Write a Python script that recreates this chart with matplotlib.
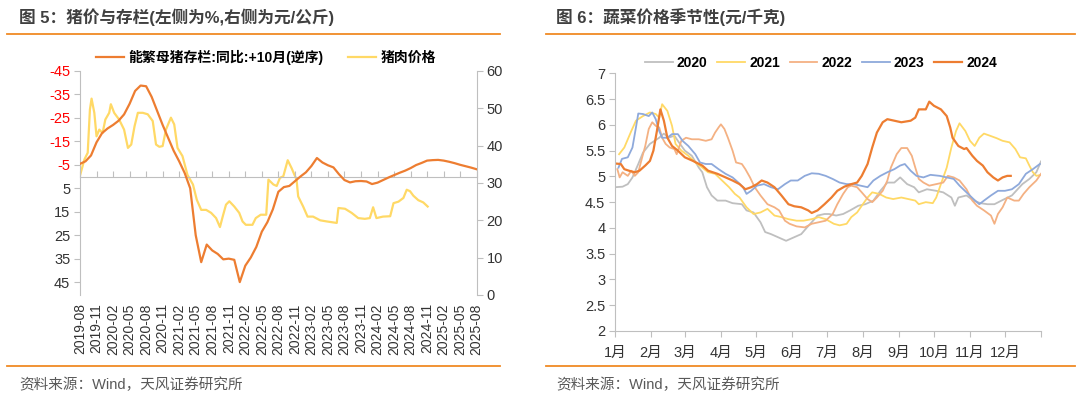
import matplotlib
matplotlib.use('Agg')
import matplotlib.pyplot as plt
from matplotlib.lines import Line2D

plt.rcParams['font.family'] = ['Liberation Sans', 'Noto Sans CJK SC']
plt.rcParams['axes.unicode_minus'] = False

# ---------------- 图5 数据 ----------------
# 能繁母猪存栏同比(+10月, 逆序), 月度, 自 2019-08 起
sow_yoy = [-5.4, -6.5, -9, -14.6, -18.5, -20.5, -22, -23.8, -26.5, -31,
           -36.5, -38.8, -38.5, -34, -28, -22, -16.5, -11, -6.5, -1.5,
           5, 25, 36.5, 29, 31.5, 33, 35.3, 35, 35.5, 45,
           38, 34.5, 30, 23.5, 19.5, 14, 6.5, 4.5, 4, 2,
           0, -1.8, -4.5, -7.9, -6, -4.8, -3.9, -1, 1.5, 2.5,
           2, 1.9, 2.1, 3.2, 2.6, 1.5, 0.4, -0.6, -1.6, -2.5,
           -3.6, -4.9, -5.8, -6.8, -7, -7.1, -6.8, -6.3, -5.7, -5.0,
           -4.4, -3.8, -3.1]
sow_t = list(range(len(sow_yoy)))

# 猪肉价格 (元/公斤), 时间为自 2019-08 起的月数
pork_t = [0, 0.8, 1.4, 1.8, 2.1, 2.6, 3.0, 3.5, 4.1, 4.6,
          5.3, 5.6, 6.2, 7.1, 8.0, 8.7, 9.3, 9.9, 10.5, 11.4,
          12.3, 13.2, 13.8, 14.4, 15.0, 15.6, 16.5, 17.1, 17.7, 18.6,
          19.5, 20.5, 21.2, 22.0, 22.9, 23.8, 24.7, 25.4, 25.9, 26.5,
          27.1, 28.0, 28.9, 29.5, 30.1, 31.3, 31.9, 32.8, 33.8, 34.2,
          35.1, 35.7, 36.3, 36.9, 37.7, 38.4, 39.3, 39.6, 40.5, 41.3,
          42.3, 43.6, 44.8, 46.6, 46.9, 48.1, 49.3, 50.5, 51.7, 52.6,
          53.2, 53.8, 55.0, 56.3, 56.9, 57.8, 58.7, 59.3, 59.9, 60.5,
          61.4, 62.3, 63.1]
pork_price = [32, 36.3, 38.1, 49.7, 52.6, 48.8, 42.5, 44.3, 43.4, 47,
              48.8, 51.1, 48.8, 47, 44.3, 39.4, 40.3, 45.2, 48.8, 48.8,
              48.4, 46.6, 40.3, 39.7, 39.9, 44.3, 47.5, 45.7, 39.4, 37.2,
              32.2, 29.6, 25.5, 22.8, 22.8, 22, 20.6, 18.2, 21, 24.2,
              25.1, 23.7, 22, 19.7, 18.8, 18.8, 20.6, 21.5, 21.5, 30.9,
              29.6, 29.2, 31.4, 31.8, 36.1, 34, 30.9, 26.4, 23.7, 21,
              21, 20, 19.7, 19.3, 23.3, 23.1, 22, 20.6, 20.4, 20.6,
              23.5, 20.6, 21, 21.1, 24.6, 25, 26, 28.2, 27.8, 26.6,
              25.4, 24.8, 23.7]

date_labels = ['2019-08', '2019-11', '2020-02', '2020-05', '2020-08', '2020-11',
               '2021-02', '2021-05', '2021-08', '2021-11', '2022-02', '2022-05',
               '2022-08', '2022-11', '2023-02', '2023-05', '2023-08', '2023-11',
               '2024-02', '2024-05', '2024-08', '2024-11', '2025-02', '2025-05',
               '2025-08']

# ---------------- 图6 数据 (日序, 元/千克) ----------------
d2020 = [0, 6.5, 11, 15, 20, 24, 30, 38, 42, 46, 51, 54, 60, 66, 72, 75, 79, 83, 88, 95,
         101, 109, 113, 119, 125, 129, 134, 140, 147, 154, 160, 165, 169, 174, 180, 184,
         190, 196, 202, 209, 215, 222, 228, 234, 240, 245, 251, 257, 261, 268, 276, 282,
         289, 292, 295, 302, 308, 314, 320, 326, 332, 341, 350, 356, 362, 366]
v2020 = [4.79, 4.8, 4.85, 4.98, 5.24, 5.46, 5.63, 5.75, 5.83, 5.75, 5.79, 5.69, 5.5, 5.4,
         5.17, 5.08, 4.79, 4.63, 4.53, 4.53, 4.48, 4.46, 4.34, 4.3, 4.11, 3.92, 3.88, 3.82,
         3.75, 3.82, 3.88, 4.01, 4.11, 4.24, 4.27, 4.27, 4.24, 4.27, 4.34, 4.43, 4.46, 4.53,
         4.72, 4.88, 4.88, 4.98, 4.85, 4.79, 4.69, 4.75, 4.72, 4.69, 4.59, 4.43, 4.59, 4.63,
         4.53, 4.48, 4.46, 4.46, 4.53, 4.63, 4.85, 4.95, 5.08, 5.29]

d2021 = [3.5, 8, 14, 18, 24, 30, 35, 38, 40.5, 45, 49, 52, 57, 63, 69, 75, 80, 86, 92, 98,
         103, 107, 113, 119, 125, 131, 137, 143, 149, 156, 162, 169, 175, 181, 188, 193,
         199, 203, 208, 212, 217, 221, 227, 233, 239, 246, 252, 258, 261, 267, 273, 276,
         280, 285, 289, 293, 296, 301, 305, 309, 313, 317, 322, 328, 333, 339, 344, 348,
         353, 356, 359, 362, 366]
v2021 = [5.43, 5.56, 5.88, 6.08, 6.17, 6.24, 6.21, 6.14, 6.4, 6.27, 5.98, 5.63, 5.5, 5.4,
         5.27, 5.17, 5.08, 5.05, 4.92, 4.79, 4.66, 4.59, 4.4, 4.27, 4.3, 4.37, 4.24, 4.21,
         4.17, 4.14, 4.14, 4.17, 4.21, 4.17, 4.08, 4.05, 4.08, 4.21, 4.3, 4.43, 4.59, 4.69,
         4.66, 4.59, 4.56, 4.59, 4.56, 4.53, 4.46, 4.5, 4.48, 4.59, 4.85, 5.17, 5.56, 5.88,
         6.03, 5.88, 5.69, 5.59, 5.75, 5.83, 5.79, 5.74, 5.69, 5.66, 5.53, 5.37, 5.35, 5.21,
         5.08, 5.01, 5.03]

d2022 = [2, 4, 6.5, 11, 14, 17, 20, 23, 26, 29, 32, 35, 38, 40.5, 43.5, 47, 51, 53, 57, 61,
         66, 72, 78, 83, 86, 89, 91, 94, 97, 101, 104, 109, 112, 116, 120, 125, 131, 137,
         141, 146, 150, 156, 163, 169, 175, 181, 187, 191, 196, 200, 203, 208, 212, 217,
         221, 225, 230, 234, 237, 242, 246, 251, 255, 258, 261, 265, 270, 276, 282, 286,
         291, 296, 302, 307, 311, 317, 323, 326, 329, 333, 337, 343, 347, 351, 356, 362, 366]
v2022 = [5.14, 4.98, 5.08, 5.01, 5.11, 5.01, 5.08, 5.34, 5.59, 5.92, 6.05, 5.98, 5.95, 5.75,
         5.63, 5.56, 5.53, 5.43, 5.69, 5.75, 5.72, 5.72, 5.69, 5.72, 5.85, 5.95, 6.01, 5.92,
         5.75, 5.5, 5.27, 5.24, 5.14, 4.98, 4.79, 4.63, 4.46, 4.4, 4.34, 4.14, 4.08, 4.03,
         4.01, 4.08, 4.11, 4.14, 4.27, 4.46, 4.66, 4.79, 4.82, 4.79, 4.69, 4.56, 4.5, 4.59,
         4.72, 4.92, 5.17, 5.43, 5.55, 5.55, 5.4, 5.17, 4.95, 4.88, 4.82, 4.85, 4.88, 5.01,
         4.98, 4.92, 4.75, 4.53, 4.43, 4.34, 4.24, 4.08, 4.27, 4.4, 4.59, 4.53, 4.53, 4.66,
         4.79, 4.92, 5.05]

d2023 = [3, 6, 11, 15, 18, 20, 24, 29, 32, 35, 38, 40.5, 45, 49, 54, 58, 63, 69, 73, 78,
         83, 89, 95, 101, 106, 110, 113, 117, 122, 128, 134, 140, 146, 151, 157, 163, 169,
         175, 181, 187, 193, 199, 205, 211, 217, 222, 228, 234, 240, 245, 249, 254, 259,
         265, 271, 279, 285, 291, 296, 302, 308, 313, 317, 323, 329, 335, 341, 347, 353,
         359, 365]
v2023 = [5.17, 5.34, 5.37, 5.56, 5.95, 6.22, 6.21, 6.17, 6.24, 6.11, 5.88, 5.75, 5.75, 5.82,
         5.82, 5.69, 5.59, 5.43, 5.27, 5.24, 5.24, 5.14, 5.05, 4.98, 4.88, 4.79, 4.66, 4.72,
         4.82, 4.85, 4.79, 4.75, 4.85, 4.92, 4.92, 5.01, 5.06, 5.05, 5.01, 4.95, 4.88, 4.85,
         4.85, 4.82, 4.79, 4.92, 5.01, 5.08, 5.14, 5.21, 5.24, 5.11, 5.01, 4.98, 5.03, 5.01,
         4.98, 4.95, 4.82, 4.69, 4.56, 4.46, 4.53, 4.63, 4.72, 4.72, 4.75, 4.85, 5.05, 5.14,
         5.24]

d2024 = [0, 5, 8, 12, 17, 21, 26, 30, 33, 36, 39, 42, 45, 49, 54, 60, 67, 75, 80, 88, 95,
         101, 107, 112, 117, 122, 126, 131, 137, 143, 149, 154, 160, 166, 169, 174, 180,
         186, 191, 197, 203, 208, 212, 217, 221, 225, 230, 234, 240, 246, 254, 258, 261,
         267, 270, 274, 280, 285, 288, 290, 295, 300, 302, 307, 311, 316, 320, 325, 329,
         333, 337, 340]
v2024 = [5.25, 5.24, 5.14, 5.11, 5.08, 5.11, 5.21, 5.3, 5.5, 5.88, 6.3, 6.08, 5.75, 5.59,
         5.5, 5.37, 5.3, 5.21, 5.11, 5.05, 4.98, 4.92, 4.85, 4.75, 4.79, 4.85, 4.92, 4.88,
         4.79, 4.63, 4.46, 4.42, 4.4, 4.34, 4.29, 4.34, 4.46, 4.59, 4.72, 4.8, 4.85, 4.88,
         5.01, 5.24, 5.56, 5.85, 6.05, 6.11, 6.08, 6.05, 6.08, 6.14, 6.3, 6.3, 6.45, 6.37,
         6.3, 6.17, 5.95, 5.75, 5.59, 5.53, 5.55, 5.4, 5.3, 5.21, 5.08, 4.98, 4.92, 4.98,
         5.01, 5.01]

month_starts = [0, 31, 60, 91, 121, 152, 182, 213, 244, 274, 305, 335, 366]
month_labels = ['1月', '2月', '3月', '4月', '5月', '6月', '7月', '8月', '9月',
                '10月', '11月', '12月', '']

W, H = 1080, 399
GRID = '#BFBFBF'
TXT = '#333333'
RULE = '#F08A24'


def box(x0, y0, x1, y1):
    # 像素框 -> figure 坐标
    return [x0 / W, 1 - y1 / H, (x1 - x0) / W, (y1 - y0) / H]


def hline(x0, x1, y):
    fig.add_artist(Line2D([x0 / W, x1 / W], [1 - y / H, 1 - y / H], color=RULE, lw=1.3))


fig = plt.figure(figsize=(W / 100, H / 100), dpi=100)

# ---------------- 图5 ----------------
ax1 = fig.add_axes(box(80, 71, 476.7, 295))
l1, = ax1.plot(sow_t, sow_yoy, color='#ED7D31', lw=1.6, zorder=3)
ax1.set_xlim(0, 72)
ax1.set_ylim(50.5, -45)
ax1.set_yticks(range(-45, 46, 10))
for lab, v in zip(ax1.get_yticklabels(), range(-45, 46, 10)):
    lab.set_color('#FF0000' if v < 0 else TXT)
ax1.set_xticks(range(0, 73, 3))
ax1.spines['bottom'].set_position(('data', 0))
for s in ['top', 'right']:
    ax1.spines[s].set_visible(False)
for s in ['bottom', 'left']:
    ax1.spines[s].set_color(GRID)
ax1.tick_params(axis='x', direction='in', length=4, color=GRID, labelbottom=False)
ax1.tick_params(axis='y', direction='out', length=4, color=GRID, labelsize=10.5, pad=3)

sec = ax1.secondary_xaxis('bottom')
sec.set_xticks(range(0, 73, 3))
sec.set_xticklabels(date_labels, rotation=90, fontsize=10, color=TXT)
sec.tick_params(length=0, pad=6)
sec.spines['bottom'].set_visible(False)

ax2 = ax1.twinx()
l2, = ax2.plot(pork_t, pork_price, color='#FFD966', lw=1.6, zorder=2)
ax2.set_ylim(0, 60)
ax2.set_yticks(range(0, 61, 10))
for s in ['top', 'left', 'bottom']:
    ax2.spines[s].set_visible(False)
ax2.spines['right'].set_color(GRID)
ax2.tick_params(axis='y', direction='out', length=4, color=GRID, labelsize=10.5,
                labelcolor=TXT, pad=3)
ax1.set_zorder(ax2.get_zorder() + 1)
ax1.patch.set_visible(False)

fig.legend([l1, l2], ['能繁母猪存栏:同比:+10月(逆序)', '猪肉价格'], loc='center',
           bbox_to_anchor=(266 / W, 1 - 57 / H), ncol=2, frameon=False,
           prop={'weight': 'bold', 'size': 10}, handlelength=2.0,
           handletextpad=0.3, columnspacing=1.8)

fig.text(19 / W, 1 - 17 / H, '图 5：猪价与存栏(左侧为%,右侧为元/公斤)', fontsize=12,
         fontweight='bold', color='#404040', va='center')
fig.text(19 / W, 1 - 385 / H, '资料来源：Wind，天风证券研究所', fontsize=10.5,
         color='#595959', va='center')
hline(7, 500, 34)
hline(7, 500, 366)

# ---------------- 图6 ----------------
ax3 = fig.add_axes(box(615, 73.3, 1041, 331))
series = [(d2020, v2020, '2020', '#BFBFBF', 1.3),
          (d2021, v2021, '2021', '#FFD966', 1.3),
          (d2022, v2022, '2022', '#F4B183', 1.3),
          (d2023, v2023, '2023', '#8EA9DB', 1.3),
          (d2024, v2024, '2024', '#ED7D31', 1.6)]
for d, v, name, c, lw in series:
    ax3.plot(d, v, color=c, lw=lw, label=name)
ax3.set_xlim(0, 366)
ax3.set_ylim(2, 7)
ax3.set_yticks([2 + 0.5 * i for i in range(11)])
ax3.set_yticklabels(['%g' % (2 + 0.5 * i) for i in range(11)])
ax3.set_xticks(month_starts)
ax3.set_xticklabels(month_labels)
for s in ['top', 'right']:
    ax3.spines[s].set_visible(False)
for s in ['bottom', 'left']:
    ax3.spines[s].set_color(GRID)
ax3.tick_params(direction='out', length=4, color=GRID, labelsize=10.5, labelcolor=TXT)
ax3.tick_params(axis='x', pad=7)
ax3.tick_params(axis='y', pad=3)

ax3.legend(loc='center', bbox_to_anchor=(821 / W, 1 - 63 / H),
           bbox_transform=fig.transFigure, ncol=5, frameon=False,
           prop={'weight': 'bold', 'size': 10}, handlelength=2.0,
           handletextpad=0.3, columnspacing=0.7)

fig.text(556 / W, 1 - 17 / H, '图 6：蔬菜价格季节性(元/千克)', fontsize=12,
         fontweight='bold', color='#404040', va='center')
fig.text(556 / W, 1 - 385 / H, '资料来源：Wind，天风证券研究所', fontsize=10.5,
         color='#595959', va='center')
hline(546, 1075, 34)
hline(546, 1075, 366)

fig.savefig('out.png', dpi=100, facecolor='white')
